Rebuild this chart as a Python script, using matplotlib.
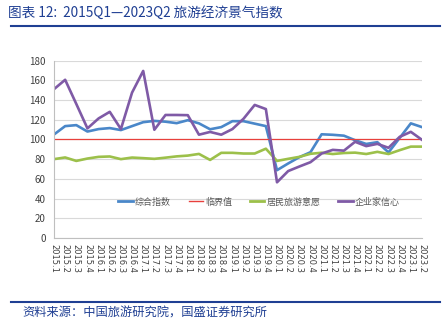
import matplotlib
matplotlib.use("Agg")
import matplotlib.pyplot as plt
from matplotlib.lines import Line2D

plt.rcParams['font.family'] = ['Noto Sans CJK SC', 'DejaVu Sans']

# 季度标签 2015Q1 - 2023Q2
quarters = [f"{y}.{q}" for y in range(2015, 2024) for q in range(1, 5)][:34]

# 综合指数
composite = [105, 113.5, 114.5, 108, 110.5, 111.5, 109.5, 113.5, 117.5,
             118.8, 118, 116.5, 119.5, 116.3, 110.3, 112.5, 118.5, 118.5,
             116, 113.5, 68.8, 75.6, 82, 87, 105.2, 104.7, 103.8, 99.2,
             95.4, 97.2, 86.8, 101.5, 116.3, 112.5]
# 临界值
threshold = [100] * 34
# 居民旅游意愿
willingness = [80, 81.7, 78.2, 80.6, 82.3, 82.7, 80, 81.6, 81,
               80.3, 81.5, 82.8, 83.6, 85.3, 79.2, 86.4, 86.4, 85.7,
               85.7, 90.6, 78.2, 80.3, 82.3, 85.4, 86.5, 85.2, 86.2, 86.6,
               85.2, 87.4, 85.2, 89.1, 92.7, 92.7]
# 企业家信心
confidence = [151, 160.5, 136, 111.2, 121.3, 128, 110.5, 147.5, 169.5,
              109.8, 124.8, 124.8, 124.6, 104.8, 107.6, 104.8, 110.5, 121,
              135, 130.8, 56.5, 67.9, 72.5, 76.9, 85.7, 89.4, 88.6, 97.6,
              93.2, 95.5, 91.5, 102.6, 107.7, 99.6]

series_names = ['综合指数', '临界值', '居民旅游意愿', '企业家信心']
colors = ['#4a87c9', '#e8403c', '#9cc04a', '#7f5aa6']

fig = plt.figure(figsize=(4.47, 3.31), dpi=100)
ax = fig.add_axes([0.1208, 0.281, 0.8232, 0.536])

x = list(range(len(quarters)))
ax.plot(x, composite, color=colors[0], lw=1.9, label=series_names[0])
ax.plot(x, threshold, color=colors[1], lw=0.9, label=series_names[1])
ax.plot(x, willingness, color=colors[2], lw=1.9, label=series_names[2])
ax.plot(x, confidence, color=colors[3], lw=1.9, label=series_names[3])

ax.set_xlim(0, len(quarters) - 1)
ax.set_ylim(0, 180)
ax.set_yticks(range(0, 181, 20))
ax.set_xticks(x)
ax.set_xticklabels(quarters, rotation=-90, fontsize=6, color='#404040',
                   family=['DejaVu Sans'])
ax.tick_params(axis='y', labelsize=7, colors='#404040', length=0, pad=6)
ax.tick_params(axis='x', length=0, pad=4)
ax.grid(axis='y', color='#d9d9d9', lw=0.8)
ax.set_axisbelow(True)
for side in ['top', 'right']:
    ax.spines[side].set_visible(False)
for side in ['left', 'bottom']:
    ax.spines[side].set_color('#bfbfbf')
    ax.spines[side].set_linewidth(0.8)

handles = [Line2D([], [], color=c, lw=2 if i != 1 else 1) for i, c in enumerate(colors)]
ax.legend(handles, series_names, loc='center', bbox_to_anchor=(0.557, 0.203),
          ncol=4, frameon=False, fontsize=6.5, handlelength=1.6,
          handletextpad=0.2, columnspacing=2.0, labelcolor='#595959')

# 标题与资料来源
title_color = '#1f3f93'
fig.text(0.018, 0.962, '图表 12:  2015Q1—2023Q2 旅游经济景气指数',
         fontsize=9.8, color=title_color, style='italic', va='center')
fig.add_artist(Line2D([0.025, 0.985], [0.921, 0.921], color=title_color, lw=1.5))
fig.add_artist(Line2D([0.025, 0.985], [0.088, 0.088], color=title_color, lw=1.5))
fig.text(0.05, 0.055, '资料来源：中国旅游研究院，国盛证券研究所',
         fontsize=8.8, color=title_color, style='italic', va='center')

fig.savefig('out.png', dpi=100)
